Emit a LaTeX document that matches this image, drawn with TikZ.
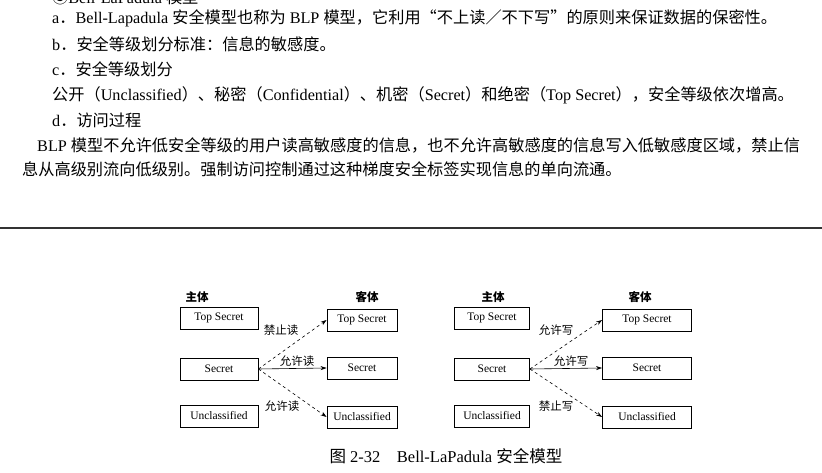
\documentclass[tikz,border=0pt]{standalone}
\usepackage{fontspec}
\setmainfont{Liberation Serif}
\newfontfamily\cjk{Noto Sans CJK SC}
\newcommand{\zh}[1]{{\cjk #1}}
\usetikzlibrary{arrows.meta}
\begin{document}
\begin{tikzpicture}[x=1pt,y=-1pt,
  body/.style={anchor=west,inner sep=0,font=\fontsize{16.2}{18}\selectfont},
  box/.style={draw,line width=0.8pt,minimum height=22pt,inner sep=0,font=\fontsize{11.5}{13}\selectfont},
  hd/.style={font=\fontsize{11.5}{13}\selectfont\cjk\bfseries},
  lab/.style={font=\fontsize{11.5}{13}\selectfont\cjk,inner sep=1pt},
  arr/.style={-{Stealth[length=6pt,width=4pt]},line width=0.6pt},
  dsh/.style={arr,dashed}]
\useasboundingbox (0,0) rectangle (822,473);
\begin{scope}
\clip (0,0) rectangle (822,473);
\node[body] (t0) at (52,-3) {\zh{③}Bell-LaPadula \zh{模型}};
\end{scope}
\node[body] (t1) at (52,18) {a\zh{．}Bell-Lapadula \zh{安全模型也称为} BLP \zh{模型，它利用“不上读／不下写”的原则来保证数据的保密性。}};
\node[body] (t2) at (52,44) {b\zh{．安全等级划分标准：信息的敏感度。}};
\node[body] (t3) at (52,69) {c\zh{．安全等级划分}};
\node[body] (t4) at (52,95) {\zh{公开（}Unclassified\zh{）、秘密（}Confidential\zh{）、机密（}Secret\zh{）和绝密（}Top Secret\zh{），安全等级依次增高。}};
\node[body] (t5) at (52,120) {d\zh{．访问过程}};
\node[body] (t6) at (37,145) {BLP \zh{模型不允许低安全等级的用户读高敏感度的信息，也不允许高敏感度的信息写入低敏感度区域，禁止信}};
\node[body] (t7) at (22,169) {\zh{息从高级别流向低级别。强制访问控制通过这种梯度安全标签实现信息的单向流通。}};
\draw[line width=2.5pt,black!80] (0,228) -- (822,228);

% left diagram
\node[hd] (h1) at (197,297) {主体};
\node[hd] (h2) at (367,297) {客体};
\node[box,minimum width=78pt] (a1) at (219,318) {Top Secret};
\node[box,minimum width=78pt] (a2) at (219,369) {Secret};
\node[box,minimum width=78pt] (a3) at (219,416) {Unclassified};
\node[box,minimum width=70pt] (b1) at (362,320) {Top Secret};
\node[box,minimum width=70pt] (b2) at (362,368) {Secret};
\node[box,minimum width=70pt] (b3) at (362,417) {Unclassified};
\draw[dsh] (a2.east) -- (b1.west);
\draw[arr] (a2.east) -- (b2.west);
\draw[dsh] (a2.east) -- (b3.west);
\node[lab] (l1) at (281,330) {禁止读};
\node[lab] (l2) at (297,361) {允许读};
\node[lab] (l3) at (282,406) {允许读};

% right diagram
\node[hd] (h3) at (493,297) {主体};
\node[hd] (h4) at (640,297) {客体};
\node[box,minimum width=75pt] (c1) at (492,318) {Top Secret};
\node[box,minimum width=75pt] (c2) at (492,369) {Secret};
\node[box,minimum width=75pt] (c3) at (492,416) {Unclassified};
\node[box,minimum width=89pt] (d1) at (647,320) {Top Secret};
\node[box,minimum width=89pt] (d2) at (647,368) {Secret};
\node[box,minimum width=89pt] (d3) at (647,417) {Unclassified};
\draw[dsh] (c2.east) -- (d1.west);
\draw[arr] (c2.east) -- (d2.west);
\draw[dsh] (c2.east) -- (d3.west);
\node[lab] (l4) at (556,330) {允许写};
\node[lab] (l5) at (571,361) {允许写};
\node[lab] (l6) at (556,406) {禁止写};

\node[font=\fontsize{16.5}{18}\selectfont] (cap) at (446,456) {\zh{图} 2-32\quad Bell-LaPadula \zh{安全模型}};
\end{tikzpicture}
\end{document}
